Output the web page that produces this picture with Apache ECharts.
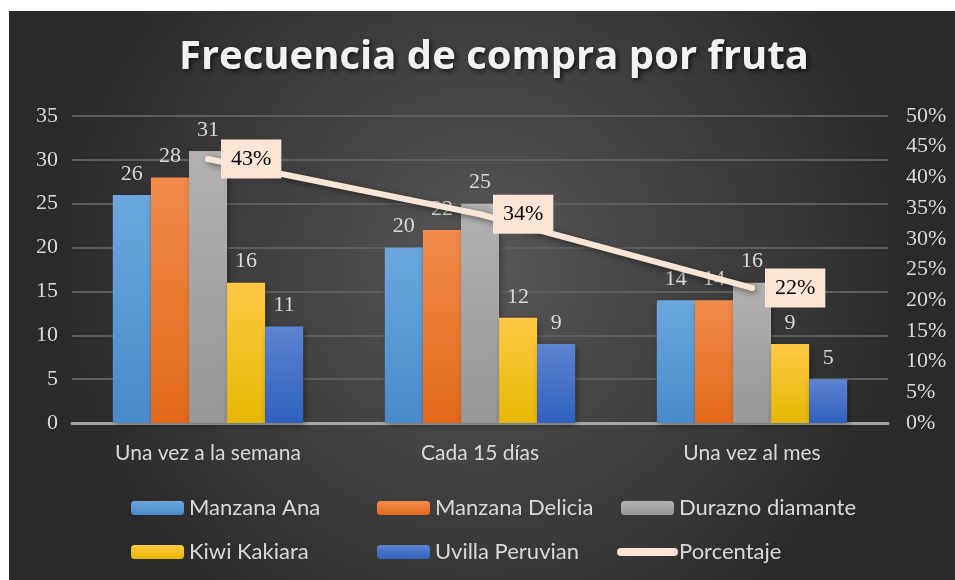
<!DOCTYPE html>
<html>
<head>
<meta charset="utf-8">
<script src="https://cdn.jsdelivr.net/npm/echarts@6/dist/echarts.min.js"></script>
<style>
  html, body { margin: 0; padding: 0; background: #ffffff; }
  #main { width: 955px; height: 580px; }
</style>
</head>
<body>
<div id="main"></div>
<script>
var categories = ['Una vez a la semana', 'Cada 15 días', 'Una vez al mes'];
var manzanaAna = [26, 20, 14];
var manzanaDelicia = [28, 22, 14];
var duraznoDiamante = [31, 25, 16];
var kiwiKakiara = [16, 12, 9];
var uvillaPeruvian = [11, 9, 5];
var porcentaje = [0.43, 0.34, 0.22];

var myChart = echarts.init(document.getElementById('main'));

// gradient fill like the excel bars: lighter on top
function grad(top, bottom) {
  return new echarts.graphic.LinearGradient(0, 0, 0, 1, [
    { offset: 0, color: top },
    { offset: 1, color: bottom }
  ]);
}

var serif = '"Liberation Serif", "Times New Roman", serif';
var sans = 'Lato, "Noto Sans", sans-serif';

function barSeries(name, data, top, bottom) {
  return {
    name: name,
    type: 'bar',
    data: data,
    barGap: '0%',
    barCategoryGap: '30%',
    itemStyle: {
      color: grad(top, bottom),
      shadowColor: 'rgba(0,0,0,0.35)',
      shadowBlur: 6,
      shadowOffsetX: 2,
      shadowOffsetY: 2
    },
    label: {
      show: true,
      position: 'top',
      distance: 10,
      color: '#d9d9d9',
      fontFamily: serif,
      fontSize: 22
    }
  };
}

var legendText = { color: '#d9d9d9', fontFamily: sans, fontSize: 22 };

var option = {
  backgroundColor: '#ffffff',
  animation: false,
  graphic: [{
    type: 'rect',
    z: -100,
    silent: true,
    shape: { x: 9, y: 11, width: 946, height: 569 },
    style: {
      fill: new echarts.graphic.RadialGradient(0.5, 0.45, 0.75, [
        { offset: 0, color: '#585858' },
        { offset: 1, color: '#2a2a2a' }
      ])
    }
  }],
  title: {
    text: 'Frecuencia de compra por fruta',
    left: 174,
    top: 33,
    textStyle: {
      color: '#f2f2f2',
      fontFamily: '"Open Sans", Lato, sans-serif',
      fontWeight: 'bold',
      fontSize: 40,
      textShadowColor: 'rgba(0,0,0,0.7)',
      textShadowBlur: 5,
      textShadowOffsetX: 2,
      textShadowOffsetY: 2
    }
  },
  legend: [
    {
      orient: 'vertical', left: 131, top: 497, padding: 0, itemWidth: 53, itemHeight: 14, itemGap: 22,
      data: ['Manzana Ana', 'Kiwi Kakiara'], textStyle: legendText
    },
    {
      orient: 'vertical', left: 377, top: 497, padding: 0, itemWidth: 53, itemHeight: 14, itemGap: 22,
      data: ['Manzana Delicia', 'Uvilla Peruvian'], textStyle: legendText
    },
    {
      orient: 'vertical', left: 617, top: 497, padding: 0, itemWidth: 53, itemHeight: 14, itemGap: 22,
      lineStyle: { width: 8, cap: 'round', shadowBlur: 0 },
      data: ['Durazno diamante', { name: 'Porcentaje', itemStyle: { opacity: 0 } }],
      textStyle: legendText
    }
  ],
  grid: { left: 72, right: 67, top: 116, bottom: 157 },
  xAxis: {
    type: 'category',
    data: categories,
    axisTick: { show: false },
    axisLine: { lineStyle: { color: '#a6a6a6', width: 3 } },
    axisLabel: { color: '#d9d9d9', fontFamily: sans, fontSize: 21, margin: 20 }
  },
  yAxis: [
    {
      type: 'value',
      min: 0,
      max: 35,
      interval: 5,
      axisLine: { show: false },
      axisTick: { show: false },
      splitLine: { lineStyle: { color: '#5e5e5e', width: 2 } },
      axisLabel: { color: '#d9d9d9', fontFamily: serif, fontSize: 22, margin: 14 }
    },
    {
      type: 'value',
      min: 0,
      max: 0.5,
      interval: 0.05,
      axisLine: { show: false },
      axisTick: { show: false },
      splitLine: { show: false },
      axisLabel: {
        color: '#d9d9d9', fontFamily: serif, fontSize: 22, margin: 18,
        formatter: function (v) { return Math.round(v * 100) + '%'; }
      }
    }
  ],
  series: [
    barSeries('Manzana Ana', manzanaAna, '#6ba7de', '#4a8acb'),
    barSeries('Manzana Delicia', manzanaDelicia, '#f28b4c', '#e2691a'),
    barSeries('Durazno diamante', duraznoDiamante, '#b2b2b2', '#969696'),
    barSeries('Kiwi Kakiara', kiwiKakiara, '#ffc845', '#e8b700'),
    barSeries('Uvilla Peruvian', uvillaPeruvian, '#5d84d0', '#2f60bd'),
    {
      name: 'Porcentaje',
      type: 'line',
      yAxisIndex: 1,
      data: porcentaje,
      symbol: 'circle',
      symbolSize: 6,
      itemStyle: { color: '#fbe5d6' },
      lineStyle: {
        color: '#fbe5d6',
        width: 6,
        cap: 'round',
        shadowColor: 'rgba(0,0,0,0.5)',
        shadowBlur: 6,
        shadowOffsetX: 2,
        shadowOffsetY: 2
      },
      z: 5,
      label: {
        show: true,
        position: 'right',
        distance: 10,
        color: '#000000',
        fontFamily: serif,
        fontSize: 22,
        backgroundColor: '#fce4d6',
        padding: [10, 10, 7, 10],
        formatter: function (p) { return Math.round(p.value * 100) + '%'; }
      }
    }
  ]
};

myChart.setOption(option);
window.addEventListener('resize', function () {
  myChart.resize();
});
</script>
</body>
</html>
